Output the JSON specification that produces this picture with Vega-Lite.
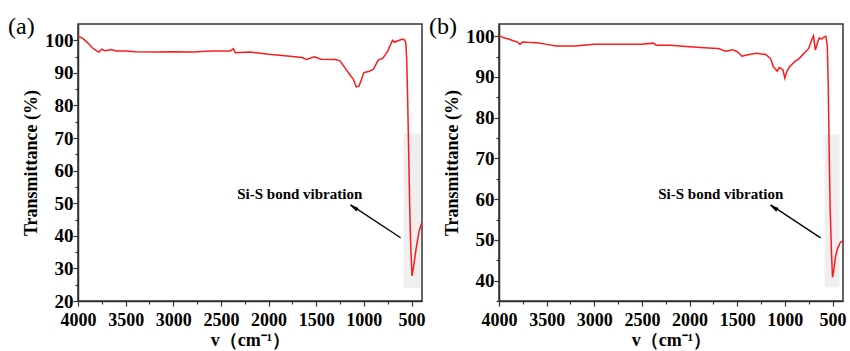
{
  "$schema": "https://vega.github.io/schema/vega-lite/v6.json",
  "padding": {"left": 7, "top": 14, "right": 0, "bottom": 0},
  "background": "white",
  "bounds": "flush",
  "spacing": 77,
  "datasets": {
    "a": [
      {"v": 4000, "t": 101.3}, {"v": 3950, "t": 100.6}, {"v": 3900, "t": 99.3}, {"v": 3850, "t": 97.7},
      {"v": 3800, "t": 96.7}, {"v": 3780, "t": 96.4}, {"v": 3750, "t": 97.3}, {"v": 3720, "t": 96.8},
      {"v": 3700, "t": 96.9}, {"v": 3650, "t": 97.2}, {"v": 3600, "t": 96.7}, {"v": 3500, "t": 96.7},
      {"v": 3400, "t": 96.5}, {"v": 3200, "t": 96.4}, {"v": 3000, "t": 96.5}, {"v": 2800, "t": 96.4},
      {"v": 2600, "t": 96.7}, {"v": 2400, "t": 96.7}, {"v": 2370, "t": 97.4}, {"v": 2350, "t": 96.2},
      {"v": 2200, "t": 96.4}, {"v": 2000, "t": 95.7}, {"v": 1800, "t": 95.2}, {"v": 1650, "t": 94.7},
      {"v": 1600, "t": 94.1}, {"v": 1520, "t": 94.9}, {"v": 1450, "t": 94.2}, {"v": 1300, "t": 94.1},
      {"v": 1250, "t": 93.7}, {"v": 1200, "t": 91.6}, {"v": 1150, "t": 89.6}, {"v": 1110, "t": 88.0},
      {"v": 1080, "t": 85.7}, {"v": 1050, "t": 86.0}, {"v": 1000, "t": 90.1}, {"v": 950, "t": 90.4},
      {"v": 900, "t": 91.1}, {"v": 850, "t": 93.9}, {"v": 800, "t": 94.5}, {"v": 750, "t": 96.7},
      {"v": 700, "t": 100.0}, {"v": 680, "t": 99.4}, {"v": 650, "t": 99.8}, {"v": 600, "t": 100.3},
      {"v": 575, "t": 100.2}, {"v": 560, "t": 99.3}, {"v": 550, "t": 93.7}, {"v": 540, "t": 81.4},
      {"v": 530, "t": 66.0}, {"v": 520, "t": 50.7}, {"v": 510, "t": 38.4}, {"v": 495, "t": 27.7},
      {"v": 480, "t": 30.2}, {"v": 450, "t": 36.4}, {"v": 420, "t": 41.5}, {"v": 392, "t": 44.0}
    ],
    "b": [
      {"v": 4000, "t": 100.2}, {"v": 3950, "t": 99.6}, {"v": 3900, "t": 99.3}, {"v": 3850, "t": 98.9},
      {"v": 3800, "t": 98.5}, {"v": 3780, "t": 98.0}, {"v": 3750, "t": 98.6}, {"v": 3700, "t": 98.5},
      {"v": 3600, "t": 98.4}, {"v": 3500, "t": 98.0}, {"v": 3400, "t": 97.6}, {"v": 3300, "t": 97.6},
      {"v": 3200, "t": 97.6}, {"v": 3000, "t": 98.0}, {"v": 2800, "t": 98.0}, {"v": 2600, "t": 98.0},
      {"v": 2500, "t": 98.0}, {"v": 2380, "t": 98.3}, {"v": 2350, "t": 97.8}, {"v": 2200, "t": 97.8},
      {"v": 2000, "t": 97.4}, {"v": 1800, "t": 97.1}, {"v": 1700, "t": 97.0}, {"v": 1620, "t": 96.3},
      {"v": 1550, "t": 96.7}, {"v": 1500, "t": 96.2}, {"v": 1450, "t": 95.1}, {"v": 1400, "t": 95.4},
      {"v": 1300, "t": 95.8}, {"v": 1200, "t": 95.5}, {"v": 1150, "t": 94.5}, {"v": 1120, "t": 92.5},
      {"v": 1080, "t": 91.4}, {"v": 1060, "t": 92.3}, {"v": 1040, "t": 92.1}, {"v": 1020, "t": 91.7},
      {"v": 1000, "t": 89.7}, {"v": 980, "t": 91.3}, {"v": 950, "t": 92.5}, {"v": 900, "t": 93.7},
      {"v": 850, "t": 94.5}, {"v": 800, "t": 95.8}, {"v": 750, "t": 97.0}, {"v": 720, "t": 99.0},
      {"v": 700, "t": 100.1}, {"v": 680, "t": 96.6}, {"v": 660, "t": 98.2}, {"v": 640, "t": 99.6},
      {"v": 620, "t": 99.3}, {"v": 590, "t": 99.8}, {"v": 570, "t": 100.0}, {"v": 555, "t": 97.8},
      {"v": 545, "t": 88.0}, {"v": 535, "t": 71.7}, {"v": 525, "t": 57.9}, {"v": 510, "t": 46.5},
      {"v": 500, "t": 40.8}, {"v": 490, "t": 42.0}, {"v": 470, "t": 45.7}, {"v": 450, "t": 47.7},
      {"v": 420, "t": 49.3}, {"v": 392, "t": 49.8}
    ],
    "annA": [{"x": 583, "x2": 405, "y": 24, "y2": 71.3, "tx": 1673, "ty": 52.9, "label": "Si-S bond vibration", "ax": 614, "ay": 39.4, "hx": 1138, "hy": 49.5, "px": 1110, "py": 48.8}],
    "annB": [{"x": 583, "x2": 426, "y": 38.3, "y2": 75.9, "tx": 1673, "ty": 61.3, "label": "Si-S bond vibration", "ax": 625, "ay": 50.5, "hx": 1149, "hy": 58.6, "px": 1120, "py": 58.0}]
  },
  "config": {
    "view": {"stroke": "#333333", "strokeWidth": 1.5},
    "font": "Liberation Serif",
    "axis": {
      "grid": false, "labelOverlap": false,
      "labelFont": "Liberation Serif", "labelFontWeight": "bold", "labelFontSize": 18, "labelColor": "#000000",
      "titleFont": "Liberation Serif", "titleFontWeight": "bold", "titleFontSize": 18, "titleColor": "#000000",
      "domainColor": "#333333", "domainWidth": 1.5, "tickColor": "#333333", "tickWidth": 1.2, "tickSize": 5
    },
    "axisY": {"labelFontSize": 19}
  },
  "hconcat": [
    {
      "width": 344, "height": 277,
      "title": {"text": "(a)", "anchor": "start", "frame": "group", "font": "Liberation Serif", "fontSize": 24, "fontWeight": "normal", "color": "#000000", "dx": -70, "offset": -27, "baseline": "middle"},
      "resolve": {"axis": {"x": "independent", "y": "independent"}},
      "layer": [
        {"data": {"name": "annA"}, "mark": {"type": "rect", "color": "#efefef"},
         "encoding": {
           "x": {"field": "x", "type": "quantitative", "scale": {"domain": [390, 4000], "reverse": true, "nice": false, "zero": false},
                 "axis": {"orient": "bottom", "title": "v（cm⁻¹）", "values": [4000, 3500, 3000, 2500, 2000, 1500, 1000, 500], "format": "d", "labelPadding": 5, "titlePadding": 2, "labelFlush": false}},
           "x2": {"field": "x2"},
           "y": {"field": "y", "type": "quantitative", "scale": {"domain": [20, 105], "nice": false, "zero": false},
                 "axis": {"orient": "left", "title": "Transmittance (%)", "values": [20, 30, 40, 50, 60, 70, 80, 90, 100], "labelPadding": 0, "titlePadding": 4}},
           "y2": {"field": "y2"}}},
        {"data": {"name": "a"}, "mark": {"type": "line", "color": "#ff1a1a", "strokeWidth": 1.5},
         "encoding": {
           "x": {"field": "v", "type": "quantitative", "scale": {"domain": [390, 4000], "reverse": true, "nice": false, "zero": false},
                 "axis": {"orient": "bottom", "title": null, "values": [3750, 3250, 2750, 2250, 1750, 1250, 750], "labels": false, "domain": false, "tickSize": 3}},
           "y": {"field": "t", "type": "quantitative", "scale": {"domain": [20, 105], "nice": false, "zero": false},
                 "axis": {"orient": "left", "title": null, "values": [25, 35, 45, 55, 65, 75, 85, 95], "labels": false, "domain": false, "tickSize": 3}}
         }},
        {"data": {"name": "annA"}, "mark": {"type": "rule", "color": "#000000", "strokeWidth": 1.3},
         "encoding": {"x": {"field": "ax", "type": "quantitative", "axis": null}, "y": {"field": "ay", "type": "quantitative", "axis": null}, "x2": {"field": "hx"}, "y2": {"field": "hy"}}},
        {"data": {"name": "annA"}, "mark": {"type": "point", "shape": "M0,-1L0.45,1L-0.45,1Z", "filled": true, "color": "#000000", "size": 90, "angle": 303, "opacity": 1},
         "encoding": {"x": {"field": "px", "type": "quantitative", "axis": null}, "y": {"field": "py", "type": "quantitative", "axis": null}}},
        {"data": {"name": "annA"}, "mark": {"type": "text", "font": "Liberation Serif", "fontWeight": "bold", "fontSize": 15, "color": "#000000"},
         "encoding": {"x": {"field": "tx", "type": "quantitative", "axis": null}, "y": {"field": "ty", "type": "quantitative", "axis": null}, "text": {"field": "label"}}}
      ]
    },
    {
      "width": 344, "height": 277,
      "title": {"text": "(b)", "anchor": "start", "frame": "group", "font": "Liberation Serif", "fontSize": 24, "fontWeight": "normal", "color": "#000000", "dx": -70, "offset": -27, "baseline": "middle"},
      "resolve": {"axis": {"x": "independent", "y": "independent"}},
      "layer": [
        {"data": {"name": "annB"}, "mark": {"type": "rect", "color": "#efefef"},
         "encoding": {
           "x": {"field": "x", "type": "quantitative", "scale": {"domain": [390, 4000], "reverse": true, "nice": false, "zero": false},
                 "axis": {"orient": "bottom", "title": "v（cm⁻¹）", "values": [4000, 3500, 3000, 2500, 2000, 1500, 1000, 500], "format": "d", "labelPadding": 5, "titlePadding": 2, "labelFlush": false}},
           "x2": {"field": "x2"},
           "y": {"field": "y", "type": "quantitative", "scale": {"domain": [35, 103], "nice": false, "zero": false},
                 "axis": {"orient": "left", "title": "Transmittance (%)", "values": [40, 50, 60, 70, 80, 90, 100], "labelPadding": 0, "titlePadding": 4}},
           "y2": {"field": "y2"}}},
        {"data": {"name": "b"}, "mark": {"type": "line", "color": "#ff1a1a", "strokeWidth": 1.5},
         "encoding": {
           "x": {"field": "v", "type": "quantitative", "scale": {"domain": [390, 4000], "reverse": true, "nice": false, "zero": false},
                 "axis": {"orient": "bottom", "title": null, "values": [3750, 3250, 2750, 2250, 1750, 1250, 750], "labels": false, "domain": false, "tickSize": 3}},
           "y": {"field": "t", "type": "quantitative", "scale": {"domain": [35, 103], "nice": false, "zero": false},
                 "axis": {"orient": "left", "title": null, "values": [35, 45, 55, 65, 75, 85, 95], "labels": false, "domain": false, "tickSize": 3}}
         }},
        {"data": {"name": "annB"}, "mark": {"type": "rule", "color": "#000000", "strokeWidth": 1.3},
         "encoding": {"x": {"field": "ax", "type": "quantitative", "axis": null}, "y": {"field": "ay", "type": "quantitative", "axis": null}, "x2": {"field": "hx"}, "y2": {"field": "hy"}}},
        {"data": {"name": "annB"}, "mark": {"type": "point", "shape": "M0,-1L0.45,1L-0.45,1Z", "filled": true, "color": "#000000", "size": 90, "angle": 303, "opacity": 1},
         "encoding": {"x": {"field": "px", "type": "quantitative", "axis": null}, "y": {"field": "py", "type": "quantitative", "axis": null}}},
        {"data": {"name": "annB"}, "mark": {"type": "text", "font": "Liberation Serif", "fontWeight": "bold", "fontSize": 15, "color": "#000000"},
         "encoding": {"x": {"field": "tx", "type": "quantitative", "axis": null}, "y": {"field": "ty", "type": "quantitative", "axis": null}, "text": {"field": "label"}}}
      ]
    }
  ]
}
